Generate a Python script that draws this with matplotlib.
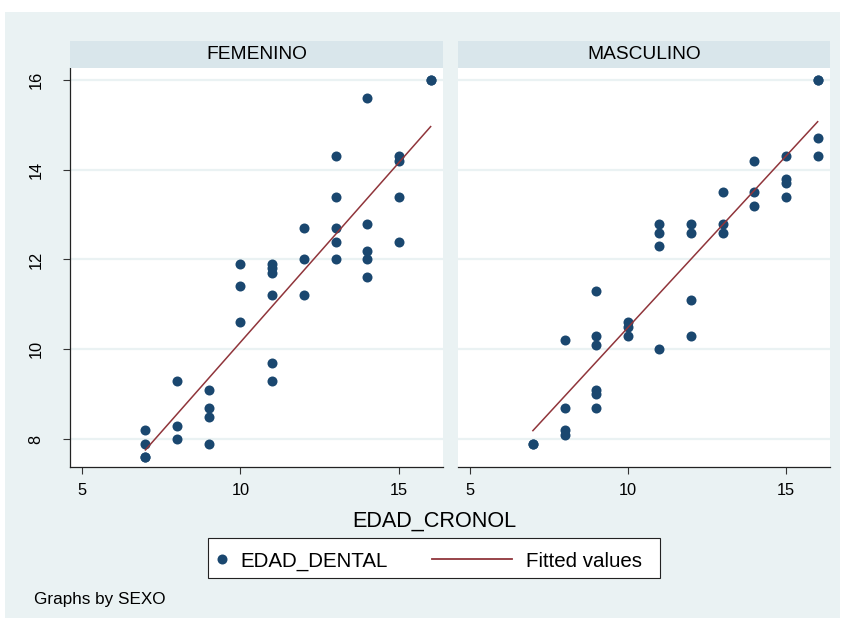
import numpy as np
import matplotlib.pyplot as plt
from matplotlib.patches import Rectangle
from matplotlib.lines import Line2D

plt.rcParams['font.family'] = ['Liberation Sans', 'DejaVu Sans']

# EDAD_CRONOL / EDAD_DENTAL by SEXO (overlapping points counted twice)
fem_x = [7, 7, 7, 7,
         8, 8, 8,
         9, 9, 9, 9,
         10, 10, 10,
         11, 11, 11, 11, 11, 11,
         12, 12, 12,
         13, 13, 13, 13, 13,
         14, 14, 14, 14, 14,
         15, 15, 15, 15,
         16, 16]
fem_y = [8.2, 7.9, 7.6, 7.6,
         9.3, 8.3, 8.0,
         9.1, 8.7, 8.5, 7.9,
         11.9, 11.4, 10.6,
         11.9, 11.8, 11.7, 11.2, 9.7, 9.3,
         12.7, 12.0, 11.2,
         14.3, 13.4, 12.7, 12.4, 12.0,
         15.6, 12.8, 12.2, 12.0, 11.6,
         14.3, 14.2, 13.4, 12.4,
         16.0, 16.0]

masc_x = [7, 7,
          8, 8, 8, 8,
          9, 9, 9, 9, 9, 9,
          10, 10, 10,
          11, 11, 11, 11,
          12, 12, 12, 12,
          13, 13, 13,
          14, 14, 14,
          15, 15, 15, 15,
          16, 16, 16, 16]
masc_y = [7.9, 7.9,
          10.2, 8.7, 8.2, 8.1,
          11.3, 10.3, 10.1, 9.1, 9.0, 8.7,
          10.6, 10.5, 10.3,
          12.8, 12.6, 12.3, 10.0,
          12.8, 12.6, 11.1, 10.3,
          13.5, 12.8, 12.6,
          14.2, 13.5, 13.2,
          14.3, 13.8, 13.7, 13.4,
          16.0, 16.0, 14.7, 14.3]

x_ticks = [5, 10, 15]
y_ticks = [8, 10, 12, 14, 16]

navy = '#1A476F'
maroon = '#90353B'
bg = '#EAF2F3'
strip_c = '#D9E6EB'

W, H = 846.0, 626.0


def fx(px):
    return px / W


def fy(py):
    return 1 - py / H


fig = plt.figure(figsize=(8.46, 6.26), dpi=100)
fig.patch.set_facecolor('white')
fig.add_artist(Rectangle((fx(5), fy(618)), 835 / W, 606 / H,
                         facecolor=bg, edgecolor='none', zorder=0))

panels = [('FEMENINO', fem_x, fem_y, 70, 443, True),
          ('MASCULINO', masc_x, masc_y, 457.6, 830, False)]

top, bottom = 68.3, 467.3
for title, x, y, l, r, first in panels:
    ax = fig.add_axes([fx(l), fy(bottom), (r - l) / W, (bottom - top) / H])
    ax.set_facecolor('white')
    ax.grid(axis='y', color=bg, lw=1.6)
    ax.set_axisbelow(True)

    ax.scatter(x, y, s=52, color=navy, linewidths=0, zorder=3)
    coef = np.polyfit(x, y, 1)
    xs = np.array([min(x), max(x)])
    ax.plot(xs, np.polyval(coef, xs), color=maroon, lw=1.1, zorder=4)

    ax.set_xlim(4.62, 16.39)
    ax.set_ylim(7.37, 16.26)
    ax.set_xticks(x_ticks)
    ax.set_yticks(y_ticks)

    for s in ['top', 'right']:
        ax.spines[s].set_visible(False)
    ax.spines['bottom'].set_color('#222222')
    ax.spines['bottom'].set_linewidth(0.9)
    ax.tick_params(axis='x', length=4.7, width=0.8, color='#333333',
                   labelsize=11.8, pad=6.5)
    if first:
        ax.spines['left'].set_color('#222222')
        ax.spines['left'].set_linewidth(0.9)
        ax.tick_params(axis='y', length=4.7, width=0.8, color='#333333',
                       labelsize=11.8, pad=14.5, labelrotation=90)
        for t in ax.get_yticklabels():
            t.set_va('center')
    else:
        ax.spines['left'].set_visible(False)
        ax.tick_params(axis='y', left=False, labelleft=False)

    # strip on top of each panel
    fig.add_artist(Rectangle((fx(l), fy(top)), (r - l) / W, 27.3 / H,
                             facecolor=strip_c, edgecolor='none', zorder=1))
    fig.text(fx((l + r) / 2), fy(54.7), title, ha='center', va='center',
             size=13.8)

fig.text(fx(434), fy(526.7), 'EDAD_CRONOL', ha='center', va='baseline',
         size=15.6)

# legend box
fig.add_artist(Rectangle((fx(208.3), fy(578.3)), 451.7 / W, 40 / H,
                         facecolor='white', edgecolor='#222222', lw=0.8,
                         zorder=2))
fig.add_artist(Line2D([fx(221.7)], [fy(558.5)], marker='o', markersize=7.2,
                      color=navy, markeredgewidth=0, zorder=3))
fig.text(fx(240.7), fy(566.7), 'EDAD_DENTAL', va='baseline', size=14.8,
         zorder=3)
fig.add_artist(Line2D([fx(432), fx(512)], [fy(558.5), fy(558.5)],
                      color=maroon, lw=1.3, zorder=3))
fig.text(fx(526), fy(566.7), 'Fitted values', va='baseline', size=14.8,
         zorder=3)

fig.text(fx(34), fy(604), 'Graphs by SEXO', va='baseline', size=12.3)

fig.savefig('out.png', dpi=100)
